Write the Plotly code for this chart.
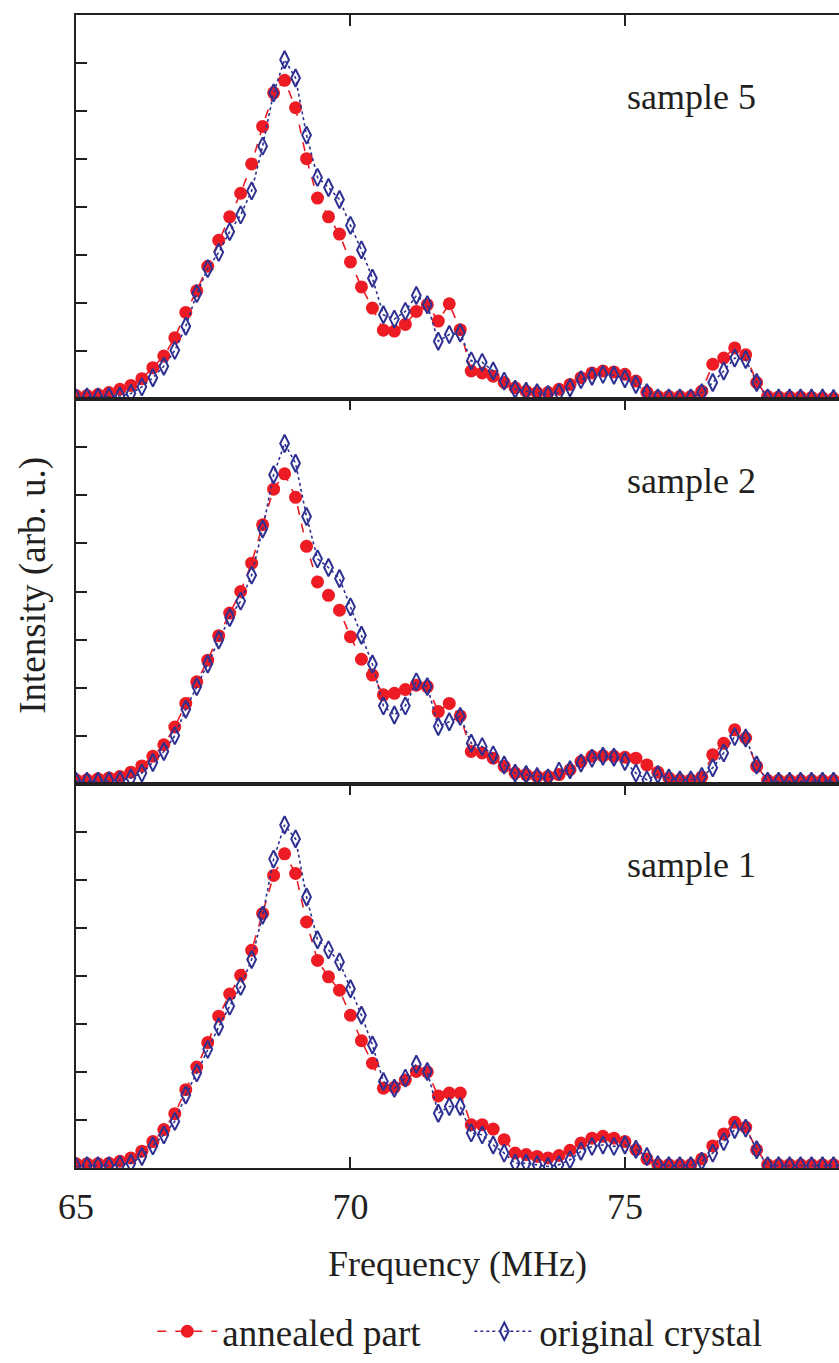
import plotly.graph_objects as go
from plotly.subplots import make_subplots

# ---------------- data ----------------
freq = [round(65 + 0.2 * i, 1) for i in range(71)]  # MHz grid

s5_annealed = [0.08, 0.08, 0.10, 0.14, 0.21, 0.29, 0.43, 0.66, 0.90, 1.28,
               1.81, 2.26, 2.77, 3.31, 3.80, 4.29, 4.90, 5.68, 6.38, 6.64,
               6.07, 5.01, 4.19, 3.80, 3.44, 2.86, 2.34, 1.90, 1.44, 1.42,
               1.56, 1.83, 1.97, 1.63, 1.99, 1.45, 0.59, 0.55, 0.48, 0.35,
               0.24, 0.17, 0.14, 0.14, 0.21, 0.31, 0.45, 0.55, 0.59, 0.57,
               0.52, 0.38, 0.15, 0.06, 0.06, 0.06, 0.06, 0.17, 0.73, 0.86,
               1.07, 0.93, 0.35, 0.06, 0.05, 0.05, 0.05, 0.04, 0.03, 0.02, 0.02]
s5_original = [0.03, 0.05, 0.05, 0.06, 0.07, 0.12, 0.26, 0.45, 0.69, 1.02,
               1.52, 2.20, 2.72, 3.06, 3.49, 3.84, 4.34, 5.27, 6.38, 7.07,
               6.69, 5.50, 4.62, 4.41, 4.16, 3.62, 3.11, 2.52, 1.76, 1.67,
               1.83, 2.16, 1.97, 1.21, 1.35, 1.38, 0.80, 0.77, 0.59, 0.38,
               0.21, 0.17, 0.14, 0.10, 0.14, 0.24, 0.41, 0.48, 0.52, 0.50,
               0.43, 0.31, 0.14, 0.03, 0.03, 0.03, 0.03, 0.14, 0.35, 0.59,
               0.86, 0.83, 0.35, 0.03, 0.03, 0.03, 0.03, 0.03, 0.03, 0.02, 0.02]

s2_annealed = [0.08, 0.08, 0.10, 0.12, 0.15, 0.24, 0.37, 0.57, 0.81, 1.18,
               1.67, 2.12, 2.57, 3.08, 3.55, 4.00, 4.59, 5.39, 6.13, 6.45,
               5.96, 4.94, 4.20, 3.92, 3.61, 3.06, 2.59, 2.26, 1.85, 1.88,
               1.96, 2.05, 2.02, 1.50, 1.67, 1.41, 0.67, 0.64, 0.53, 0.36,
               0.22, 0.19, 0.15, 0.15, 0.19, 0.29, 0.46, 0.57, 0.58, 0.57,
               0.55, 0.53, 0.39, 0.24, 0.12, 0.08, 0.08, 0.14, 0.60, 0.84,
               1.12, 0.95, 0.36, 0.07, 0.07, 0.07, 0.07, 0.07, 0.07, 0.07, 0.07]
s2_original = [0.05, 0.05, 0.05, 0.06, 0.07, 0.12, 0.22, 0.44, 0.67, 1.00,
               1.55, 2.02, 2.49, 2.99, 3.46, 3.80, 4.34, 5.30, 6.43, 7.08,
               6.67, 5.56, 4.68, 4.50, 4.27, 3.68, 3.09, 2.49, 1.62, 1.43,
               1.62, 2.12, 2.02, 1.19, 1.29, 1.40, 0.84, 0.77, 0.60, 0.39,
               0.22, 0.19, 0.15, 0.12, 0.26, 0.29, 0.43, 0.53, 0.57, 0.55,
               0.46, 0.22, 0.08, 0.19, 0.12, 0.08, 0.08, 0.15, 0.33, 0.64,
               0.98, 0.95, 0.39, 0.05, 0.05, 0.05, 0.05, 0.05, 0.05, 0.05, 0.05]

s1_annealed = [0.09, 0.09, 0.09, 0.10, 0.14, 0.21, 0.35, 0.55, 0.80, 1.13,
               1.63, 2.10, 2.61, 3.16, 3.62, 4.01, 4.53, 5.30, 6.09, 6.54,
               6.13, 5.12, 4.32, 3.98, 3.70, 3.18, 2.65, 2.18, 1.66, 1.68,
               1.83, 2.01, 2.00, 1.50, 1.56, 1.56, 0.90, 0.90, 0.81, 0.59,
               0.31, 0.28, 0.24, 0.21, 0.26, 0.37, 0.52, 0.62, 0.66, 0.62,
               0.55, 0.38, 0.19, 0.07, 0.07, 0.07, 0.07, 0.19, 0.46, 0.71,
               0.95, 0.85, 0.38, 0.07, 0.07, 0.07, 0.07, 0.07, 0.07, 0.07, 0.07]
s1_original = [0.03, 0.05, 0.05, 0.05, 0.07, 0.10, 0.24, 0.46, 0.69, 0.97,
               1.52, 1.98, 2.47, 2.94, 3.37, 3.78, 4.34, 5.26, 6.43, 7.14,
               6.85, 5.64, 4.75, 4.54, 4.29, 3.73, 3.18, 2.56, 1.80, 1.66,
               1.87, 2.16, 2.01, 1.14, 1.28, 1.28, 0.73, 0.69, 0.48, 0.31,
               0.10, 0.10, 0.07, 0.03, 0.07, 0.17, 0.35, 0.45, 0.48, 0.45,
               0.48, 0.39, 0.24, 0.07, 0.05, 0.05, 0.05, 0.14, 0.31, 0.55,
               0.80, 0.83, 0.38, 0.05, 0.05, 0.05, 0.05, 0.05, 0.05, 0.05, 0.05]

panel_names = ["sample 5", "sample 2", "sample 1"]
panel_annealed = [s5_annealed, s2_annealed, s1_annealed]
panel_original = [s5_original, s2_original, s1_original]
x_ticks = [65, 70, 75, 80]
x_ticktext = ["65", "70", "75", "80"]
y_ticks = [0, 1, 2, 3, 4, 5, 6, 7, 8]
y_major = [4]
legend_names = ["annealed part", "original crystal"]

# ---------------- style ----------------
RED = "#ED1C24"
BLUE = "#2E3192"
INK = "#231F20"
FONT = "'Liberation Serif', 'DejaVu Serif', 'Times New Roman', serif"
FS = 36

fig = make_subplots(rows=3, cols=1, shared_xaxes=False, vertical_spacing=0)

for r in range(3):
    fig.add_trace(go.Scatter(
        x=freq, y=panel_annealed[r], mode="lines+markers",
        name=legend_names[0], showlegend=(r == 0), legendgroup="a",
        line=dict(color=RED, width=1.6, dash="dash"),
        marker=dict(symbol="circle", size=13, color=RED),
    ), row=r + 1, col=1)
    fig.add_trace(go.Scatter(
        x=freq, y=panel_original[r], mode="lines+markers",
        name=legend_names[1], showlegend=(r == 0), legendgroup="b",
        line=dict(color=BLUE, width=1.6, dash="dot"),
        marker=dict(symbol="diamond-tall-open", size=12.5, color=BLUE,
                    line=dict(color=BLUE, width=2)),
    ), row=r + 1, col=1)
    fig.add_annotation(
        x=75.0, y=6.3, xref=f"x{r + 1 if r else ''}", yref=f"y{r + 1 if r else ''}",
        text=panel_names[r], showarrow=False, xanchor="left", yanchor="middle",
        font=dict(family=FONT, size=FS, color=INK),
    )

for r in range(3):
    last = (r == 2)
    fig.update_xaxes(
        row=r + 1, col=1, range=[65, 78.9],
        tickvals=x_ticks, ticktext=x_ticktext,
        showline=True, linecolor=INK, linewidth=2,
        mirror=("ticks" if last else True),
        side=("bottom" if last else "top"),
        ticks="inside", ticklen=11, tickwidth=2, tickcolor=INK,
        showticklabels=last, showgrid=False, zeroline=False,
        tickfont=dict(family=FONT, size=FS, color=INK),
        ticklabelstandoff=6,
    )
    fig.update_yaxes(
        row=r + 1, col=1, range=[0, 8],
        tickvals=y_ticks,
        showline=True, linecolor=INK, linewidth=2, mirror=False,
        ticks="inside", ticklen=11, tickwidth=2, tickcolor=INK,
        showticklabels=False, showgrid=False, zeroline=False,
    )

# right-hand major ticks (the right frame itself lies just beyond the picture)
dom = {1: fig.layout.yaxis.domain, 2: fig.layout.yaxis2.domain, 3: fig.layout.yaxis3.domain}
for r in range(3):
    n = 4 + r
    fig.layout[f"yaxis{n}"] = dict(
        overlaying=f"y{r + 1 if r else ''}", anchor=f"x{r + 1 if r else ''}",
        side="right", range=[0, 8], tickvals=y_major,
        ticks="inside", ticklen=3, tickwidth=2, tickcolor=INK,
        showline=False, showticklabels=False, showgrid=False, zeroline=False,
    )

fig.add_annotation(
    x=0.5, y=-0.0834, xref="paper", yref="paper",
    text="Frequency (MHz)", showarrow=False, xanchor="center", yanchor="middle",
    font=dict(family=FONT, size=FS, color=INK),
)
fig.add_annotation(
    x=0, y=0.505, xref="paper", yref="paper", xshift=-43,
    text="Intensity (arb. u.)", textangle=-90, showarrow=False,
    xanchor="center", yanchor="middle",
    font=dict(family=FONT, size=37, color=INK),
)

fig.update_layout(
    width=839, height=1363,
    margin=dict(l=76, r=0, t=15, b=191),
    paper_bgcolor="white", plot_bgcolor="white",
    font=dict(family=FONT, size=FS, color=INK),
    legend=dict(orientation="h", x=0.1, xanchor="left", y=-0.142, yanchor="middle",
                font=dict(family=FONT, size=37, color=INK), itemwidth=60,
                entrywidth=242, entrywidthmode="pixels",
                bgcolor="rgba(0,0,0,0)", traceorder="normal"),
)

fig.write_html(
    "out.html",
    config={"displayModeBar": False},
    post_script="document.body.style.margin='0';document.body.style.overflow='hidden';",
)
